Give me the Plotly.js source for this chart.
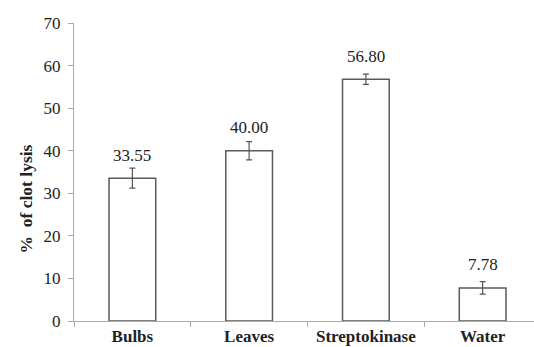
<!DOCTYPE html>
<html>
<head>
<meta charset="utf-8">
<script src="https://cdn.plot.ly/plotly-3.0.1.min.js"></script>
<style>html,body{margin:0;padding:0;background:#fff;}#chart{width:534px;height:347px;}</style>
</head>
<body>
<div id="chart"></div>
<script>
const categories = ["Bulbs", "Leaves", "Streptokinase", "Water"];
const values = [33.55, 40.00, 56.80, 7.78];
const errors = [2.35, 2.15, 1.2, 1.45];
const valueLabels = ["33.55", "40.00", "56.80", "7.78"];
const yTicks = [0, 10, 20, 30, 40, 50, 60, 70];

const serif = "Liberation Serif";

const trace = {
  type: "bar",
  x: categories,
  y: values,
  width: 0.4,
  marker: {color: "#ffffff", line: {color: "#5a5a5a", width: 1.5}},
  error_y: {type: "data", array: errors, visible: true, color: "#555555", thickness: 1.2, width: 3},
  hoverinfo: "none"
};

const annotations = categories.map((c, i) => ({
  x: c, y: values[i], xref: "x", yref: "y",
  text: valueLabels[i], showarrow: false,
  yanchor: "middle", yshift: 23,
  font: {family: serif, size: 17, color: "#222"}
}));
annotations.push({
  xref: "paper", yref: "paper", x: -0.105, y: 0.41,
  xanchor: "center", yanchor: "middle",
  text: "%  of clot lysis", textangle: -90, showarrow: false,
  font: {family: serif, size: 17.5, color: "#222", weight: "bold"}
});

const layout = {
  width: 534, height: 347,
  margin: {l: 74, r: 0, t: 23, b: 26},
  paper_bgcolor: "#fff", plot_bgcolor: "#fff",
  showlegend: false,
  font: {family: serif},
  xaxis: {
    type: "category",
    range: [-0.5, 3.44],
    showline: true, linecolor: "#aaaaaa", linewidth: 1,
    ticks: "outside", tickson: "boundaries", ticklen: 5, tickcolor: "#aaaaaa",
    showgrid: false, zeroline: false,
    ticklabelstandoff: 0,
    tickfont: {family: serif, size: 17, color: "#222", weight: "bold"}
  },
  yaxis: {
    range: [0, 70],
    tickvals: yTicks,
    showline: true, linecolor: "#aaaaaa", linewidth: 1,
    ticks: "outside", ticklen: 5, tickcolor: "#aaaaaa",
    showgrid: false, zeroline: false,
    ticklabelstandoff: 4,
    tickfont: {family: serif, size: 17, color: "#222"}
  },
  annotations: annotations
};

Plotly.newPlot("chart", [trace], layout, {displayModeBar: false, staticPlot: true});
</script>
</body>
</html>
